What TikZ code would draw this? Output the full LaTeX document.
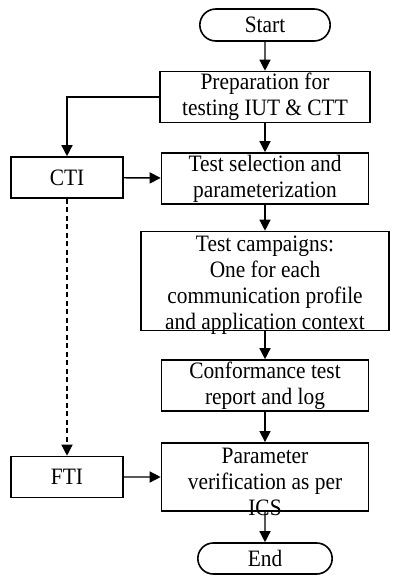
\documentclass[tikz,border=0pt]{standalone}
\usepackage{fontspec}
\setmainfont[FakeStretch=0.91]{Liberation Serif}
\usetikzlibrary{shapes.misc, arrows.meta, positioning}

\begin{document}
\begin{tikzpicture}[node distance=80pt, font=\fontsize{23.5}{26}\selectfont]
    \tikzstyle{startstop} = [rounded rectangle, draw, line width=1.6pt, text centered, minimum height=32pt, inner ysep=0pt]
    \tikzstyle{process} = [rectangle, draw, line width=1.6pt, align=center, minimum width=207pt, minimum height=51pt, inner ysep=0pt]
    \tikzstyle{side} = [rectangle, draw, line width=1.6pt, text centered, minimum width=112pt, minimum height=41pt]
    \tikzstyle{arrow} = [line width=1.4pt, -{Triangle[length=11pt,width=11pt]}]

    \useasboundingbox (0,0) rectangle (400pt,-585pt);

    \node (start) [startstop, minimum width=137pt] at (265pt,-25pt) {Start};
    \node (prep) [process, below of=start, node distance=72pt, minimum width=210pt] {Preparation for\\testing IUT \& CTT};
    \node (select) [process, below of=prep, node distance=81.5pt] {Test selection and\\parameterization};
    \node (campaign) [process, below of=select, node distance=102.5pt, minimum width=248pt, minimum height=96pt, inner ysep=-4pt] {\rule{0pt}{24pt}Test campaigns:\\One for each\\communication profile\\and application context};
    \node (report) [process, below of=campaign, node distance=104.5pt] {Conformance test\\report and log};
    \node (verify) [process, below of=report, node distance=91.5pt, inner ysep=-5pt] {\rule{0pt}{26pt}Parameter\\verification as per\\ICS};
    \node (end) [startstop, below of=verify, node distance=81.5pt, minimum width=141pt, minimum height=31pt] {End};
    \node (cti) [side, left of=select, node distance=198pt, yshift=1pt] {CTI};
    \node (fti) [side, left of=verify, node distance=198pt] {FTI};

    % Arrows
    \draw [arrow] (start) -- (prep);
    \draw [arrow] (prep.west) -| (cti.north);
    \draw [arrow] (prep) -- (select);
    \draw [arrow] (cti) -- (select);
    \draw [arrow] (select) -- (campaign);
    \draw [arrow] (campaign) -- (report);
    \draw [arrow] (report) -- (verify);
    \draw [arrow, dash pattern=on 5pt off 3.5pt] (cti) -- (fti);
    \draw [arrow] (fti) -- (verify);
    \draw [arrow] (verify) -- (end);
\end{tikzpicture}
\end{document}
